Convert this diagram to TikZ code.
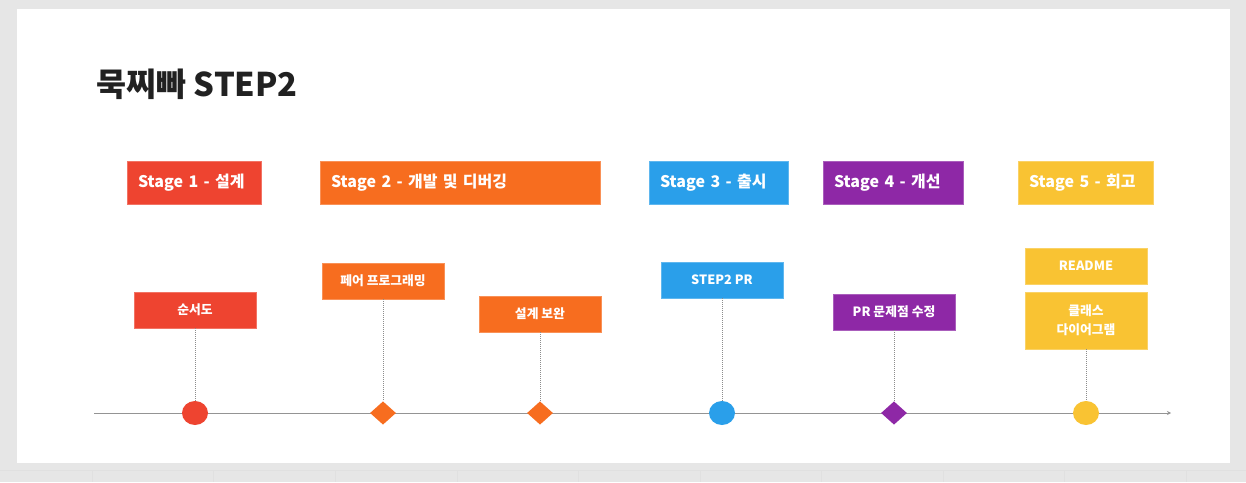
\documentclass[tikz,border=0pt]{standalone}
\usepackage{fontspec}
\setmainfont{Noto Sans CJK KR}
\usetikzlibrary{shapes.geometric,arrows.meta}
\definecolor{stagered}{RGB}{238,68,48}
\definecolor{stageorange}{RGB}{247,109,31}
\definecolor{stageblue}{RGB}{42,159,234}
\definecolor{stagepurple}{RGB}{142,40,166}
\definecolor{stageyellow}{RGB}{249,195,51}
\definecolor{pagegray}{RGB}{230,230,230}

\begin{document}
\begin{tikzpicture}[x=0.75pt,y=-0.75pt,>=stealth]
\tikzset{
  stagebox/.style={fill=#1,draw=#1!75!white,line width=.6pt,minimum height=32.25pt,inner xsep=8.25pt,align=left,text=white,font=\bfseries\fontsize{12}{14}\selectfont},
  task/.style={fill=#1,draw=#1!75!white,line width=.6pt,minimum width=91.5pt,minimum height=27pt,align=center,text=white,font=\bfseries\fontsize{9.6}{14}\selectfont},
  dot/.style={ellipse,fill=#1,minimum width=19.5pt,minimum height=18pt,inner sep=0pt},
  gem/.style={diamond,fill=#1,minimum width=19.5pt,minimum height=17.5pt,inner sep=0pt},
  link/.style={densely dotted,draw=black!45,line width=.5pt},
  axis/.style={-{Stealth[length=3pt,width=3pt]},draw=black!42,line width=.7pt}
}
\useasboundingbox (0,0) rectangle (1246,482);
\fill[pagegray] (0,0) rectangle (1246,482);
\fill[white] (17,9) rectangle (1230,463);
\draw[black!12] (0,470) -- (1246,470);
\foreach \gx in {92,213,335,457,578,700,821,943,1064,1186}
  \draw[black!12] (\gx,470) -- (\gx,482);

\node[anchor=west,inner sep=0pt,text=black!87,font=\bfseries\fontsize{24.5}{28}\selectfont] (title) at (96,84) {묵찌빠 STEP2};

% stages
\node[stagebox=stagered,text width=84pt] (s1) at (194,182.5) {Stage 1 - 설계};
\node[stagebox=stageorange,text width=193.5pt] (s2) at (460,182.5) {Stage 2 - 개발 및 디버깅};
\node[stagebox=stageblue,text width=87.75pt] (s3) at (718.5,182.5) {Stage 3 - 출시};
\node[stagebox=stagepurple,text width=88.5pt] (s4) at (893,182.5) {Stage 4 - 개선};
\node[stagebox=stageyellow,text width=84.75pt] (s5) at (1085.5,182.5) {Stage 5 - 회고};

% tasks
\node[task=stagered] (flow) at (195,310) {순서도};
\node[task=stageorange] (pair) at (383,281) {페어 프로그래밍};
\node[task=stageorange] (fix) at (540,314) {설계 보완};
\node[task=stageblue] (pr) at (722,280) {STEP2 PR};
\node[task=stagepurple] (prfix) at (894,312) {PR 문제점 수정};
\node[task=stageyellow] (readme) at (1086,266) {README};
\node[task=stageyellow,minimum height=42.75pt] (uml) at (1086,320.5) {클래스\\다이어그램};

% timeline
\coordinate (t0) at (94,413);
\coordinate (t1) at (1171,413);
\draw[axis] (t0) -- (t1);

\node[dot=stagered] (m1) at (195,413) {};
\node[gem=stageorange] (m2) at (383,413) {};
\node[gem=stageorange] (m3) at (540,413) {};
\node[dot=stageblue] (m4) at (722,413) {};
\node[gem=stagepurple] (m5) at (894,413) {};
\node[dot=stageyellow] (m6) at (1086,413) {};

\draw[link] (flow.south) -- (m1.north);
\draw[link] (pair.south) -- (m2.north);
\draw[link] (fix.south) -- (m3.north);
\draw[link] (pr.south) -- (m4.north);
\draw[link] (prfix.south) -- (m5.north);
\draw[link] (uml.south) -- (m6.north);
\end{tikzpicture}
\end{document}
